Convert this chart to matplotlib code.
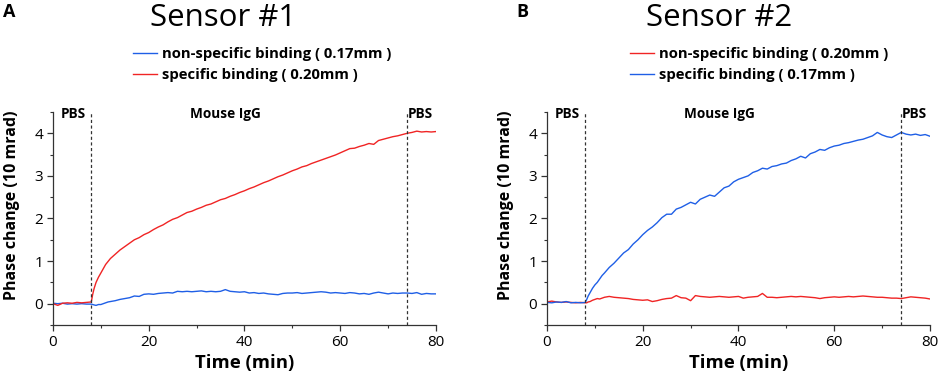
import matplotlib
matplotlib.use("Agg")
import matplotlib.pyplot as plt
from matplotlib.ticker import MultipleLocator

plt.rcParams['font.family'] = ['Open Sans', 'DejaVu Sans']

# ---------------- data ----------------
time_min = [0, 1, 2, 3, 4, 5, 6, 7, 8,
            8.3, 8.6, 9, 9.5, 10, 10.5, 11, 11.5, 12,
            13, 14, 15, 16, 17, 18, 19, 20, 21, 22, 23, 24, 25, 26, 27, 28, 29, 30,
            31, 32, 33, 34, 35, 36, 37, 38, 39, 40, 41, 42, 43, 44, 45, 46, 47, 48,
            49, 50, 51, 52, 53, 54, 55, 56, 57, 58, 59, 60, 61, 62, 63, 64, 65, 66,
            67, 68, 69, 70, 71, 72, 73, 74, 75, 76, 77, 78, 79, 80]

s1_nonspecific = [0.01, 0.00, 0.01, -0.01, 0.00, -0.01, 0.00, -0.01, -0.01,
                  -0.02, -0.03, -0.04, -0.02, -0.02, 0.00, 0.02, 0.04, 0.05,
                  0.07, 0.10, 0.12, 0.14, 0.18, 0.17, 0.22, 0.23, 0.22, 0.24, 0.25, 0.26, 0.25, 0.29, 0.28, 0.29, 0.28, 0.29,
                  0.30, 0.28, 0.29, 0.28, 0.29, 0.33, 0.29, 0.28, 0.27, 0.28, 0.25, 0.26, 0.24, 0.25, 0.23, 0.22, 0.21, 0.24,
                  0.25, 0.25, 0.26, 0.24, 0.25, 0.26, 0.27, 0.28, 0.27, 0.25, 0.26, 0.25, 0.24, 0.26, 0.25, 0.23, 0.24, 0.22,
                  0.25, 0.27, 0.25, 0.23, 0.25, 0.24, 0.25, 0.25, 0.24, 0.26, 0.22, 0.24, 0.23, 0.23]

s1_specific = [0.00, -0.04, 0.01, 0.02, 0.01, 0.03, 0.02, 0.03, 0.04,
               0.22, 0.36, 0.50, 0.62, 0.72, 0.82, 0.92, 0.99, 1.06,
               1.16, 1.26, 1.34, 1.42, 1.50, 1.55, 1.62, 1.67, 1.74, 1.80, 1.85, 1.92, 1.98, 2.02, 2.08, 2.14, 2.17, 2.22,
               2.26, 2.31, 2.34, 2.39, 2.44, 2.47, 2.52, 2.56, 2.61, 2.65, 2.70, 2.74, 2.79, 2.84, 2.88, 2.93, 2.98, 3.02,
               3.07, 3.12, 3.16, 3.21, 3.24, 3.29, 3.33, 3.37, 3.41, 3.45, 3.49, 3.54, 3.59, 3.64, 3.65, 3.69, 3.72, 3.76,
               3.74, 3.83, 3.86, 3.89, 3.92, 3.94, 3.97, 4.00, 4.02, 4.05, 4.03, 4.04, 4.03, 4.04]

s2_nonspecific = [0.04, 0.06, 0.04, 0.03, 0.04, 0.03, 0.02, 0.03, 0.02,
                  0.02, 0.04, 0.05, 0.08, 0.10, 0.12, 0.11, 0.13, 0.15,
                  0.17, 0.15, 0.14, 0.13, 0.12, 0.10, 0.09, 0.08, 0.09, 0.05, 0.07, 0.10, 0.12, 0.13, 0.19, 0.14, 0.13, 0.07,
                  0.19, 0.17, 0.16, 0.15, 0.16, 0.17, 0.16, 0.15, 0.16, 0.17, 0.13, 0.15, 0.16, 0.17, 0.24, 0.15, 0.15, 0.14,
                  0.15, 0.16, 0.17, 0.16, 0.17, 0.16, 0.15, 0.14, 0.12, 0.14, 0.15, 0.16, 0.15, 0.16, 0.17, 0.16, 0.17, 0.18,
                  0.17, 0.16, 0.15, 0.15, 0.14, 0.13, 0.13, 0.12, 0.14, 0.16, 0.15, 0.14, 0.13, 0.11]

s2_specific = [0.03, 0.02, 0.04, 0.03, 0.05, 0.02, 0.03, 0.02, 0.03,
               0.10, 0.18, 0.26, 0.36, 0.44, 0.50, 0.58, 0.66, 0.72,
               0.85, 0.95, 1.07, 1.19, 1.27, 1.40, 1.50, 1.62, 1.72, 1.80, 1.90, 2.02, 2.10, 2.10, 2.22, 2.26, 2.32, 2.38,
               2.34, 2.45, 2.50, 2.55, 2.52, 2.62, 2.72, 2.76, 2.86, 2.92, 2.96, 3.00, 3.08, 3.12, 3.18, 3.16, 3.22, 3.24,
               3.28, 3.30, 3.36, 3.40, 3.46, 3.42, 3.52, 3.56, 3.62, 3.60, 3.66, 3.70, 3.72, 3.76, 3.78, 3.81, 3.84, 3.86,
               3.90, 3.94, 4.02, 3.96, 3.92, 3.90, 3.96, 4.02, 3.98, 3.96, 3.98, 3.95, 3.97, 3.93]

event_times = [8, 74]
event_labels = ["PBS", "Mouse IgG", "PBS"]
event_label_x = [4.3, 36.0, 76.8]
titles = ["Sensor #1", "Sensor #2"]
panel_letters = ["A", "B"]
legend1 = ["non-specific binding ( 0.17mm )", "specific binding ( 0.20mm )"]
legend2 = ["non-specific binding ( 0.20mm )", "specific binding ( 0.17mm )"]

RED = "#f02424"
BLUE = "#1f5fe6"

# ---------------- figure ----------------
fig = plt.figure(figsize=(9.41, 3.77), dpi=100)
axA = fig.add_axes([0.0563, 0.138, 0.4070, 0.565])
axB = fig.add_axes([0.5813, 0.138, 0.4070, 0.565])

def style(ax):
    ax.set_xlim(0, 80)
    ax.set_ylim(-0.5, 4.5)
    ax.spines['top'].set_visible(False)
    ax.spines['right'].set_visible(False)
    for s in ('left', 'bottom'):
        ax.spines[s].set_linewidth(0.9)
        ax.spines[s].set_color('#333333')
    ax.xaxis.set_major_locator(MultipleLocator(20))
    ax.xaxis.set_minor_locator(MultipleLocator(10))
    ax.yaxis.set_major_locator(MultipleLocator(1))
    ax.yaxis.set_minor_locator(MultipleLocator(0.5))
    ax.tick_params(which='major', direction='out', length=4, width=0.9, labelsize=11, pad=3, color='#333333')
    ax.tick_params(which='minor', direction='out', length=2.5, width=0.8, color='#333333')
    ax.set_xlabel("Time (min)", fontsize=13.3, fontweight='bold', labelpad=3)
    ax.set_ylabel("Phase change (10 mrad)", fontsize=11.5, fontweight='bold')
    ax.yaxis.set_label_coords(-0.087, 0.56)
    for xv in event_times:
        ax.axvline(xv, color='#333333', lw=0.9, ls=(0, (2.5, 2)))
    for lab, xv in zip(event_labels, event_label_x):
        ax.text(xv, 4.45, lab, ha='center', va='center', fontsize=9.8, fontweight='bold')

# Panel A
lA1, = axA.plot(time_min, s1_nonspecific, color=BLUE, lw=1.0)
lA2, = axA.plot(time_min, s1_specific, color=RED, lw=1.0)
style(axA)
# Panel B
lB1, = axB.plot(time_min, s2_nonspecific, color=RED, lw=1.0)
lB2, = axB.plot(time_min, s2_specific, color=BLUE, lw=1.0)
style(axB)

fig.text(0.237, 0.932, titles[0], ha='center', va='baseline', fontsize=22.5)
fig.text(0.7646, 0.932, titles[1], ha='center', va='baseline', fontsize=22.5)
fig.text(0.003, 0.955, panel_letters[0], ha='left', va='baseline', fontsize=13, fontweight='bold')
fig.text(0.549, 0.955, panel_letters[1], ha='left', va='baseline', fontsize=13, fontweight='bold')

leg_kw = dict(frameon=False, prop={'weight': 'bold', 'size': 10.7}, handlelength=1.6,
              handletextpad=0.35, labelspacing=0.5, borderpad=0, borderaxespad=0,
              loc='upper left')
fig.legend([lA1, lA2], legend1, bbox_to_anchor=(133 / 941, 1 - 47 / 377), **leg_kw)
fig.legend([lB1, lB2], legend2, bbox_to_anchor=(630 / 941, 1 - 47 / 377), **leg_kw)

fig.savefig("out.png", dpi=100)
